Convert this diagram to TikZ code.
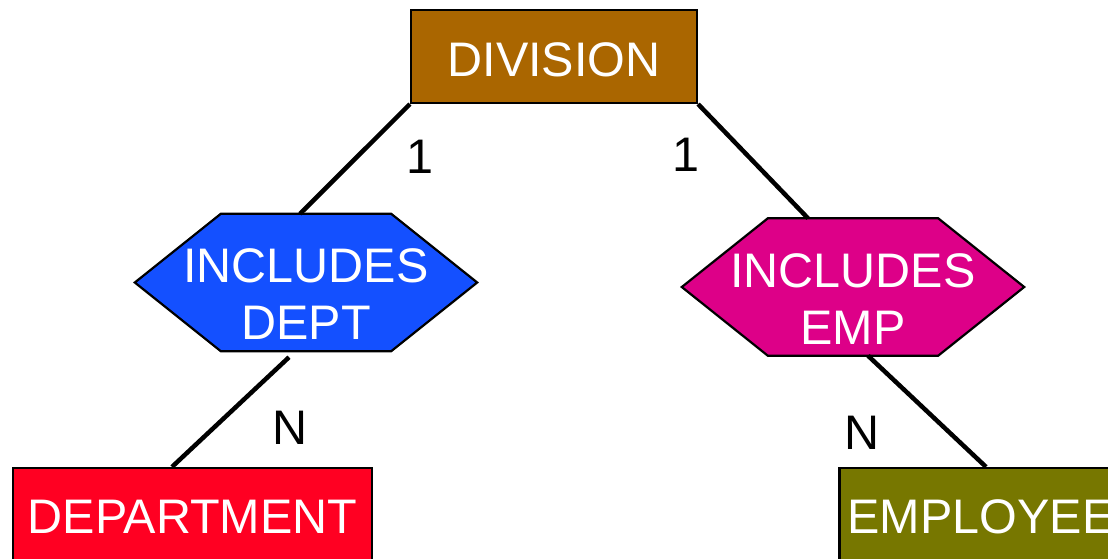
\documentclass[tikz,border=0pt]{standalone}
\usepackage{fontspec}
\setmainfont{Liberation Sans}
\usetikzlibrary{backgrounds}
\definecolor{divbrown}{RGB}{170,102,0}
\definecolor{deptblue}{RGB}{20,80,255}
\definecolor{empmagenta}{RGB}{221,0,136}
\definecolor{deptred}{RGB}{255,0,34}
\definecolor{empolive}{RGB}{119,119,0}
\tikzset{
  bigtext/.style={font=\fontsize{48.5}{57}\selectfont},
  entity/.style={draw=black, line width=2.2pt, inner sep=0pt, text=white, bigtext},
  hexnode/.style={minimum width=342pt, minimum height=137pt, inner sep=0pt},
  hexframe/.style={draw=black, line width=2.2pt, line join=miter},
  hextext/.style={text=white, align=center, inner sep=0pt, bigtext},
  link/.style={line width=4.5pt, draw=black},
  card/.style={inner sep=0pt, text=black, bigtext}
}
\begin{document}
\begin{tikzpicture}[x=1pt, y=-1pt]
\useasboundingbox (0,0) rectangle (1108,558);

% entities
\node[entity, fill=divbrown, minimum width=286pt, minimum height=93pt, text height=40pt] (div) at (554,56.5) {DIVISION};
\node[entity, fill=deptred, minimum width=359pt, minimum height=98pt] (dept) at (192.5,517) {DEPARTMENT};
\node[entity, fill=empolive, minimum width=283pt, minimum height=98pt] (emp) at (981,517) {EMPLOYEE};

% relationship frames
\node[hexnode] (incdept) at (306,282.5) {};
\node[hexnode] (incemp) at (853,287) {};

\begin{scope}[on background layer]
  \draw[hexframe, fill=deptblue] (incdept.west) -- ([xshift=86pt]incdept.north west)
    -- ([xshift=-86pt]incdept.north east) -- (incdept.east)
    -- ([xshift=-86pt]incdept.south east) -- ([xshift=86pt]incdept.south west) -- cycle;
  \draw[hexframe, fill=empmagenta] (incemp.west) -- ([xshift=86pt]incemp.north west)
    -- ([xshift=-86pt]incemp.north east) -- (incemp.east)
    -- ([xshift=-86pt]incemp.south east) -- ([xshift=86pt]incemp.south west) -- cycle;
\end{scope}

\node[hextext] (tdept) at (306,294) {INCLUDES\\DEPT};
\node[hextext] (temp) at (853,299) {INCLUDES\\EMP};

% connectors
\draw[link] (div.south west) -- ([xshift=-6pt]incdept.north);
\draw[link] (div.south east) -- ([xshift=-45pt]incemp.north);
\draw[link] ([xshift=-17pt,yshift=-6pt]incdept.south) -- ([xshift=-20.5pt]dept.north);
\draw[link] ([xshift=15pt]incemp.south) -- ([xshift=5pt]emp.north);

% cardinalities
\node[card] (c1) at (420,157) {1};
\node[card] (c2) at (686,155) {1};
\node[card] (c3) at (290,428) {N};
\node[card] (c4) at (862,433) {N};
\end{tikzpicture}
\end{document}
